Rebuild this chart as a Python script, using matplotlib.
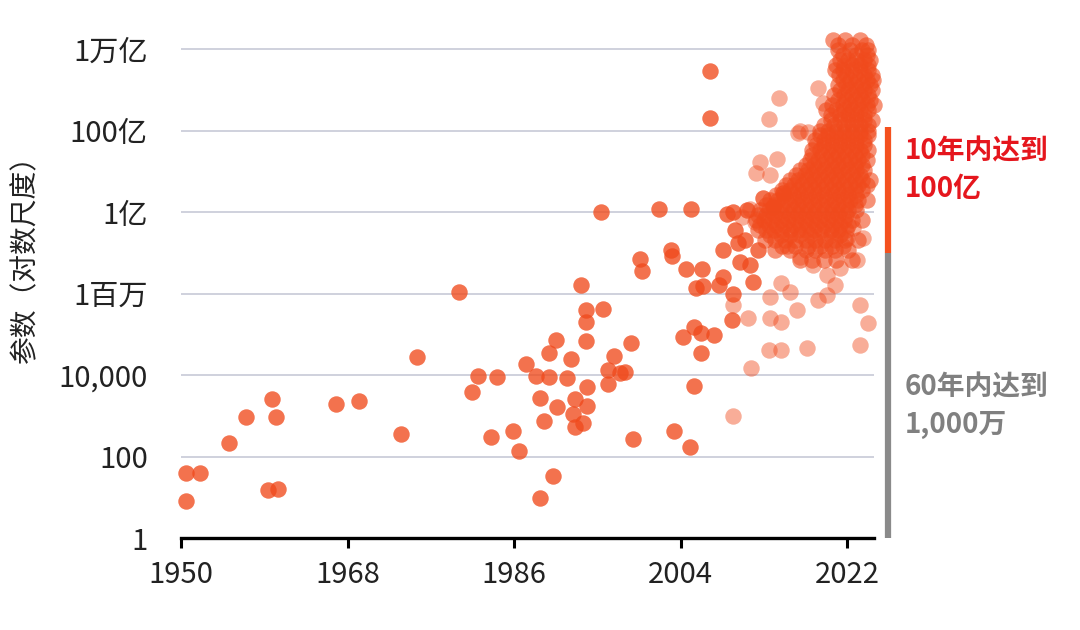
import matplotlib
matplotlib.use("Agg")
import matplotlib.pyplot as plt
from matplotlib.transforms import blended_transform_factory

plt.rcParams['font.family'] = ['Noto Sans CJK SC', 'DejaVu Sans']

# ---------------- data ----------------
y_ticks = [1, 1e2, 1e4, 1e6, 1e8, 1e10, 1e12]
y_tick_labels = ['1', '100', '10,000', '1百万', '1亿', '100亿', '1万亿']
x_ticks = [1950, 1968, 1986, 2004, 2022]

# isolated models 1950 - 2015 (solid)
solid_years = [
    1950.5, 1952.1, 1950.5, 1955.2, 1957.0, 1959.8, 1960.3, 1959.4, 1960.5,
    1966.8, 1969.2, 1973.8, 1975.5,
    1980.1, 1981.5, 1982.1, 1983.5, 1984.2, 1985.9, 1986.5, 1987.3, 1988.4,
    1988.8, 1988.8, 1989.2, 1989.8, 1989.8, 1990.2, 1990.5, 1990.6, 1991.7,
    1992.2, 1992.4, 1992.6, 1992.6, 1993.2, 1993.5, 1993.8, 1993.8, 1993.8,
    1993.9, 1993.9, 1995.4, 1995.6, 1996.2, 1996.2, 1996.8, 1997.5, 1998.0,
    1998.6, 1998.8,
    1999.6, 1999.8, 2001.7, 2003.0, 2003.1, 2003.3, 2004.3, 2004.6, 2005.0,
    2005.1, 2005.4, 2005.4, 2005.7, 2006.2, 2006.2, 2006.3, 2006.4, 2007.2,
    2007.2, 2007.6, 2008.1, 2008.6, 2008.6, 2009.0, 2009.6, 2009.7, 2009.7,
    2009.9, 2010.2, 2010.4, 2011.0, 2011.2, 2011.5, 2011.8, 2012.4, 2012.9,
    2014.0, 2015.1,
]
solid_params = [
    40, 40, 8.1, 210, 930, 2600, 930, 15, 16,
    1900, 2300, 360, 2.8e4,
    1.1e6, 3800, 9500, 300, 9000, 430, 140, 1.9e4, 9500,
    2700, 9.5, 740, 9000, 3.5e4, 33, 7.2e4, 1600, 8500,
    2.5e4, 1100, 2600, 530, 1.6e6, 660, 4.0e5, 2.0e5, 6.8e4,
    5000, 1700, 1.0e8, 4.2e5, 1.3e4, 6000, 2.9e4, 1.1e4, 1.2e4,
    6.1e4, 270,
    7.0e6, 3.6e6, 1.2e8, 1.2e7, 8.3e6, 430, 8.6e4, 4.0e6, 170,
    1.2e8, 1.5e5, 5400, 1.4e6, 1.1e5, 3.5e4, 4.0e6, 1.5e6, 2.9e11,
    2.0e10, 9.6e4, 1.6e6, 2.5e6, 1.2e7, 8.9e7, 2.2e5, 1.0e6, 1.0e8,
    3.6e7, 1.7e7, 5.9e6, 2.0e7, 1.1e8, 5.0e6, 1.9e6, 1.2e7, 2.2e8,
    1.3e8, 2.9e8,
]

# faint models around the recent cluster
faint_years = [
    2009.7, 2009.7, 2010.6, 2011.3, 2011.6, 2013.7, 2013.7, 2014.8, 2014.8,
    2015.8, 2016.6, 2013.5, 2014.8, 2017.7, 2018.8, 2019.8, 2020.7, 2021.2,
    2023.1, 2023.7, 2023.4, 2024.2, 2023.4, 2014.6, 2013.6, 2016.7, 2012.6,
    2014.4, 2012.1, 2013.7, 2018.9, 2019.4, 2016.9, 2017.8, 2015.5, 2016.9,
    2018.3, 2019.8, 2022.0, 2022.6, 2011.5, 2012.0,
]
faint_params = [
    5.2e5, 1.0e3, 7.6e7, 2.5e5, 1.5e4, 8.1e5, 2.5e5, 2.0e5, 1.8e6,
    1.1e6, 4.0e5, 4.1e4, 4.1e4, 4.6e4, 6.9e5, 9.1e5, 1.6e6, 4.2e6,
    6.6e6, 2.3e7, 5.2e5, 1.9e5, 5.5e4, 6.3e10, 1.9e10, 8.7e9, 1.7e9,
    2.0e9, 9.1e8, 8.1e8, 1.1e11, 4.7e10, 1.0e10, 9.1e9, 1.5e7, 7.9e6,
    5.0e6, 2.8e6, 2.3e7, 4.1e7, 1.2e8, 5.7e7,
]

# dense 2012-2025 cluster, read band by band (top to bottom)
cluster_band_params = [
    1.7e12, 1.26e12, 9.5e11, 7.1e11, 5.4e11, 4.1e11, 3.0e11, 2.3e11, 1.7e11,
    1.3e11, 9.8e10, 7.4e10, 5.6e10, 4.3e10, 3.2e10, 2.4e10, 1.8e10, 1.4e10,
    1.0e10, 7.8e9, 5.9e9, 4.4e9, 3.3e9, 2.5e9, 1.9e9, 1.4e9, 1.1e9, 8.1e8,
    6.2e8, 4.6e8, 3.5e8, 2.6e8, 2.0e8, 1.5e8, 1.1e8, 8.5e7, 6.3e7, 4.8e7,
    3.6e7, 2.7e7, 2.0e7, 1.5e7, 1.2e7, 6.6e6,
]
cluster_band_years = [
    [2020.5, 2021.8, 2023.4],
    [2021.0, 2022.5, 2024.0],
    [2021.0, 2022.3, 2023.6, 2024.3],
    [2021.5, 2023.0, 2024.1],
    [2021.2, 2022.1, 2023.0, 2023.8, 2024.5],
    [2020.8, 2021.7, 2022.5, 2023.4, 2024.3],
    [2020.7, 2021.6, 2022.5, 2023.4, 2024.3],
    [2021.1, 2021.9, 2022.9, 2023.8, 2024.7],
    [2021.5, 2022.3, 2023.2, 2024.1, 2024.8],
    [2021.0, 2021.9, 2022.8, 2023.6, 2024.5],
    [2021.2, 2022.1, 2023.0, 2023.8, 2024.7],
    [2020.6, 2021.7, 2022.5, 2023.4, 2024.3],
    [2021.0, 2021.9, 2022.8, 2023.6, 2024.5],
    [2020.4, 2021.5, 2022.3, 2023.2, 2024.1, 2024.9],
    [2019.7, 2020.8, 2021.7, 2022.5, 2023.4, 2024.3],
    [2020.2, 2021.2, 2022.1, 2023.0, 2023.8],
    [2020.2, 2021.2, 2022.1, 2023.0, 2023.8, 2024.7],
    [2019.5, 2020.6, 2021.7, 2022.5, 2023.4, 2024.3],
    [2019.1, 2019.9, 2020.8, 2021.7, 2022.5, 2023.4, 2024.3],
    [2019.1, 2019.9, 2020.8, 2021.7, 2022.5, 2023.4, 2024.3],
    [2018.5, 2019.5, 2020.4, 2021.2, 2022.1, 2023.0, 2023.8],
    [2018.6, 2019.5, 2020.4, 2021.2, 2022.1, 2023.0, 2023.8],
    [2018.2, 2019.1, 2019.9, 2020.8, 2021.7, 2022.5, 2023.4, 2024.3],
    [2018.2, 2019.3, 2020.2, 2021.0, 2021.9, 2022.8, 2023.6],
    [2018.0, 2018.9, 2019.7, 2020.6, 2021.5, 2022.3, 2023.2, 2024.1],
    [2017.6, 2018.4, 2019.3, 2020.2, 2021.0, 2021.9, 2022.8, 2023.6],
    [2016.9, 2017.8, 2018.6, 2019.5, 2020.4, 2021.2, 2022.1, 2023.0, 2023.8],
    [2016.5, 2017.4, 2018.2, 2019.1, 2019.9, 2020.8, 2021.7, 2022.5, 2023.4],
    [2015.8, 2016.7, 2017.6, 2018.4, 2019.3, 2020.2, 2021.0, 2021.9, 2022.8,
     2023.6, 2024.5],
    [2015.4, 2016.3, 2017.1, 2018.0, 2018.9, 2019.7, 2020.6, 2021.5, 2022.3,
     2023.2, 2024.1],
    [2015.0, 2015.8, 2016.7, 2017.6, 2018.4, 2019.3, 2020.2, 2021.0, 2021.9,
     2022.8, 2023.6],
    [2014.3, 2015.2, 2016.1, 2016.9, 2017.8, 2018.6, 2019.5, 2020.4, 2021.2,
     2022.1, 2023.0],
    [2013.7, 2014.5, 2015.4, 2016.3, 2017.1, 2018.0, 2018.9, 2019.7, 2020.6,
     2021.5, 2022.3, 2023.2, 2024.1],
    [2013.2, 2014.1, 2015.0, 2015.8, 2016.7, 2017.6, 2018.4, 2019.3, 2020.2,
     2021.0, 2021.9, 2022.8],
    [2012.6, 2013.5, 2014.3, 2015.2, 2016.1, 2016.9, 2017.8, 2018.6, 2019.5,
     2020.4, 2021.2, 2022.1, 2023.0],
    [2012.4, 2013.2, 2014.1, 2015.0, 2015.8, 2016.7, 2017.6, 2018.4, 2019.3,
     2020.2, 2021.0, 2021.9],
    [2012.2, 2013.0, 2013.9, 2014.8, 2015.6, 2016.5, 2017.4, 2018.2, 2019.1,
     2019.9, 2020.8, 2021.7, 2022.5, 2023.6],
    [2012.6, 2013.5, 2014.3, 2015.2, 2016.1, 2016.9, 2017.8, 2018.6, 2019.5,
     2020.4, 2021.2, 2022.1],
    [2012.4, 2013.2, 2014.1, 2015.0, 2015.8, 2016.7, 2017.6, 2018.4, 2019.3,
     2020.2, 2021.0, 2021.9],
    [2013.7, 2014.8, 2015.8, 2016.9, 2018.0, 2019.1, 2020.2, 2021.2],
    [2013.1, 2014.2, 2015.3, 2016.4, 2017.5, 2018.5, 2019.6, 2020.7, 2021.8,
     2023.2],
    [2015.0, 2016.4, 2017.8, 2019.1, 2020.4, 2021.5],
    [2014.2, 2015.8, 2017.5, 2018.5, 2019.6, 2020.7, 2022.1],
    [2016.9, 2018.2, 2019.5, 2020.8, 2022.5],
]

# annotation bar ranges
gray_range = [1, 1e7]
red_range = [1e7, 1.2e10]

# ---------------- drawing ----------------
dot_color = '#f04a1c'
fig = plt.figure(figsize=(10.8, 6.3), dpi=100)
ax = fig.add_axes([181 / 1080, (630 - 538) / 630, 693 / 1080, 508 / 630])
ax.set_yscale('log')
ax.set_xlim(1950, 2024.9)
ax.set_ylim(1, 2.93e12)

cluster_years = [yr for band in cluster_band_years for yr in band]
cluster_params = [p for band, p in zip(cluster_band_years, cluster_band_params)
                  for _ in band]

ms = 140
ax.scatter(solid_years, solid_params, s=ms, color=dot_color, alpha=0.78,
           linewidths=0, clip_on=False, zorder=3)
ax.scatter(faint_years, faint_params, s=ms, color=dot_color, alpha=0.45,
           linewidths=0, clip_on=False, zorder=3)
ax.scatter(cluster_years, cluster_params, s=ms, color=dot_color, alpha=0.6,
           linewidths=0, clip_on=False, zorder=3)

ax.set_yticks(y_ticks)
ax.set_yticklabels(y_tick_labels)
ax.minorticks_off()
ax.set_xticks(x_ticks)
ax.set_xticklabels([str(x) for x in x_ticks])
ax.tick_params(axis='y', length=0, pad=24, labelsize=21, labelcolor='#222222')
ax.tick_params(axis='x', length=7, width=2.2, direction='out', pad=9,
               labelsize=21, labelcolor='#222222', color='black')

for s in ['top', 'right', 'left']:
    ax.spines[s].set_visible(False)
ax.spines['bottom'].set_linewidth(2.4)
ax.spines['bottom'].set_color('black')
ax.spines['bottom'].set_zorder(4)

ax.yaxis.grid(True, color='#cfd1dd', linewidth=1.4)
ax.set_axisbelow(True)

# right side bars
blend = blended_transform_factory(ax.transAxes, ax.transData)
bx = (888 - 181) / 693
ax.plot([bx, bx], gray_range, transform=blend, color='#8a8a8a', lw=4.5,
        solid_capstyle='butt', clip_on=False)
ax.plot([bx, bx], red_range, transform=blend, color='#f4511e', lw=4.5,
        solid_capstyle='butt', clip_on=False)

fig.text(905 / 1080, 1 - 170 / 630, '10年内达到\n100亿', color='#e5161d',
         fontsize=20, fontweight='bold', ha='left', va='center',
         linespacing=1.45)
fig.text(905 / 1080, 1 - 406 / 630, '60年内达到\n1,000万', color='#808080',
         fontsize=20, fontweight='bold', ha='left', va='center',
         linespacing=1.45)

fig.text(25 / 1080, 1 - 252 / 630, '参数（对数尺度）', rotation=90,
         fontsize=20, color='#222222', ha='center', va='center')

fig.savefig('out.png', dpi=100)
